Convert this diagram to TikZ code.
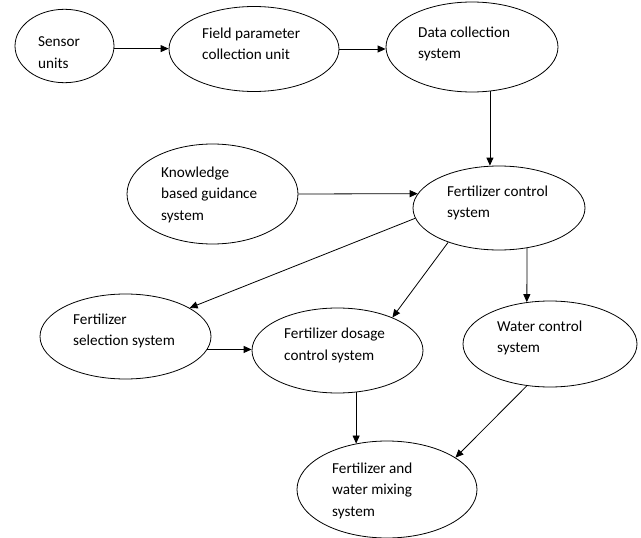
\documentclass[tikz,border=0pt]{standalone}
\usepackage{fontspec}
\setmainfont{Carlito}
\usetikzlibrary{arrows.meta,shapes.geometric}
\begin{document}
\begin{tikzpicture}[x=1pt,y=-1pt,
  ell/.style={draw,ellipse,line width=0.8pt,inner sep=0pt},
  lbl/.style={anchor=west,align=left,inner sep=0pt,font=\fontsize{15.2}{21.5}\selectfont},
  arr/.style={line width=0.8pt,-{Triangle[length=8pt,width=7pt]}}]
\useasboundingbox (0,0) rectangle (641,538);
% ellipses
\node[ell,minimum width=99pt,minimum height=73.4pt] (sensor) at (64.5,46) {};
\node[ell,minimum width=170pt,minimum height=85pt] (field) at (254,49) {};
\node[ell,minimum width=172pt,minimum height=90pt] (data) at (472,47) {};
\node[ell,minimum width=171pt,minimum height=100pt] (know) at (212.5,194) {};
\node[ell,minimum width=172pt,minimum height=84pt] (fert) at (499,208) {};
\node[ell,minimum width=171pt,minimum height=85pt] (sel) at (125.5,336.5) {};
\node[ell,minimum width=171pt,minimum height=85pt] (dos) at (337.5,350.5) {};
\node[ell,minimum width=174pt,minimum height=86pt] (water) at (550,344) {};
\node[ell,minimum width=180pt,minimum height=97pt] (mix) at (387,489.5) {};
% texts
\node[lbl] (sensorT) at (38,52.5) {Sensor\\units};
\node[lbl] (fieldT) at (202,44) {Field parameter\\collection unit};
\node[lbl] (dataT) at (418,44) {Data collection\\system};
\node[lbl] (knowT) at (161,194.5) {Knowledge\\based guidance\\system};
\node[lbl] (fertT) at (447,203) {Fertilizer control\\system};
\node[lbl] (selT) at (73,331) {Fertilizer\\selection system};
\node[lbl] (dosT) at (284,345.5) {Fertilizer dosage\\control system};
\node[lbl] (waterT) at (497,338) {Water control\\system};
\node[lbl] (mixT) at (332,490.5) {Fertilizer and\\water mixing\\system};
% connectors
\draw[arr] (sensor.-3) -- (field.west |- sensor.-3);
\draw[arr] (field.east) -- (data.west |- field.east);
\draw[arr] (data.-68) -- (data.-68 |- fert.north);
\draw[arr] (know.east) -- (fert.170);
\draw[arr] (fert.187) -- (sel.24);
\draw[arr] (fert.214) -- (dos.31);
\draw[arr] (fert.-55) -- (water.119);
\draw[arr] (sel.-9) -- (dos.west |- sel.-9);
\draw[arr] (dos.-66) -- (dos.-66 |- mix.124);
\draw[arr] (water.-119) -- (mix.25);
\end{tikzpicture}
\end{document}
